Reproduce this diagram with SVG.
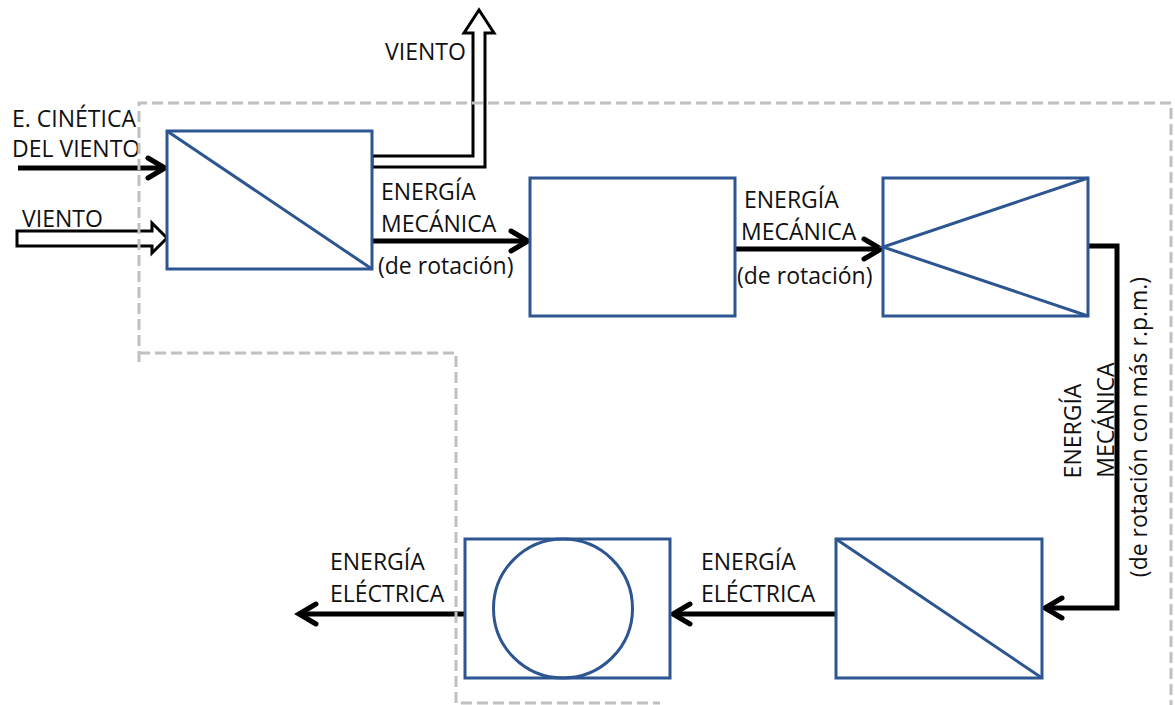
<svg xmlns="http://www.w3.org/2000/svg" width="1175" height="705" viewBox="0 0 1175 705">
<style>
.box{fill:#fff;stroke:#2c5591;stroke-width:3}
.bl{fill:none;stroke:#2c5591;stroke-width:3}
.wire{fill:none;stroke:#000;stroke-width:5;stroke-linejoin:miter}
.head{fill:none;stroke:#000;stroke-width:5;stroke-linecap:round;stroke-linejoin:miter}
.hollow{fill:#fff;stroke:#000;stroke-width:3;stroke-linejoin:miter}
.t{font-family:"Open Sans","Liberation Sans",sans-serif;font-size:23px;fill:#111}
.dash{fill:none;stroke:#c0c0c0;stroke-width:3;stroke-dasharray:11 5}
</style>
<g id="connectors">
<path class="hollow" d="M372,156 H473 V33 H464 L479,10 L494,33 H485 V167 H372 Z"/>
<path class="hollow" d="M17,231 H152 V223 L167,238 L152,253 V246 H17 Z"/>
<path class="wire" d="M18,168 H163"/>
<path class="head" d="M148,158 L165,168 L148,178"/>
<path class="wire" d="M372,241 H526"/>
<path class="head" d="M511,231 L528,241 L511,251"/>
<path class="wire" d="M735,249 H879"/>
<path class="head" d="M864,239 L881,249 L864,259"/>
<path class="wire" d="M1088,246 H1117 V608 H1047"/>
<path class="head" d="M1062,598 L1045,608 L1062,618"/>
<path class="wire" d="M835,614 H675"/>
<path class="head" d="M690,604 L673,614 L690,624"/>
<path class="wire" d="M465,614 H301"/>
<path class="head" d="M316,604 L299,614 L316,624"/>
</g>
<g id="n1"><rect class="box" x="167" y="131" width="205" height="138"/><path class="bl" d="M167,131 L372,269"/></g>
<g id="n2"><rect class="box" x="530" y="178" width="205" height="138"/></g>
<g id="n3"><rect class="box" x="883" y="178" width="205" height="138"/><path class="bl" d="M1088,178 L883,247 L1088,316"/></g>
<g id="n4"><rect class="box" x="836" y="539" width="206" height="139"/><path class="bl" d="M836,539 L1042,678"/></g>
<g id="n5"><rect class="box" x="465" y="539" width="205" height="139"/><circle class="bl" cx="563" cy="608.5" r="69.5"/></g>
<g id="labels">
<text class="t" x="385" y="60">VIENTO</text>
<text class="t" x="12" y="127">E. CINÉTICA</text>
<text class="t" x="12" y="157">DEL VIENTO</text>
<text class="t" x="22" y="227">VIENTO</text>
<text class="t" x="381" y="200">ENERGÍA</text>
<text class="t" x="381" y="232">MECÁNICA</text>
<text class="t" x="378" y="274">(de rotación)</text>
<text class="t" x="744" y="208">ENERGÍA</text>
<text class="t" x="741" y="240">MECÁNICA</text>
<text class="t" x="737" y="284">(de rotación)</text>
<text class="t" text-anchor="middle" transform="translate(1081,431) rotate(-90)">ENERGÍA</text>
<text class="t" text-anchor="middle" transform="translate(1114,420) rotate(-90)">MECÁNICA</text>
<text class="t" text-anchor="middle" transform="translate(1147,427) rotate(-90)">(de rotación con más r.p.m.)</text>
<text class="t" x="701" y="570">ENERGÍA</text>
<text class="t" x="701" y="602">ELÉCTRICA</text>
<text class="t" x="330" y="570">ENERGÍA</text>
<text class="t" x="330" y="602">ELÉCTRICA</text>
</g>
<g id="boundary">
<path class="dash" d="M139,362 V103 H1171 V705"/>
<path class="dash" d="M139,353 H456 V703 H660"/>
</g>
</svg>
